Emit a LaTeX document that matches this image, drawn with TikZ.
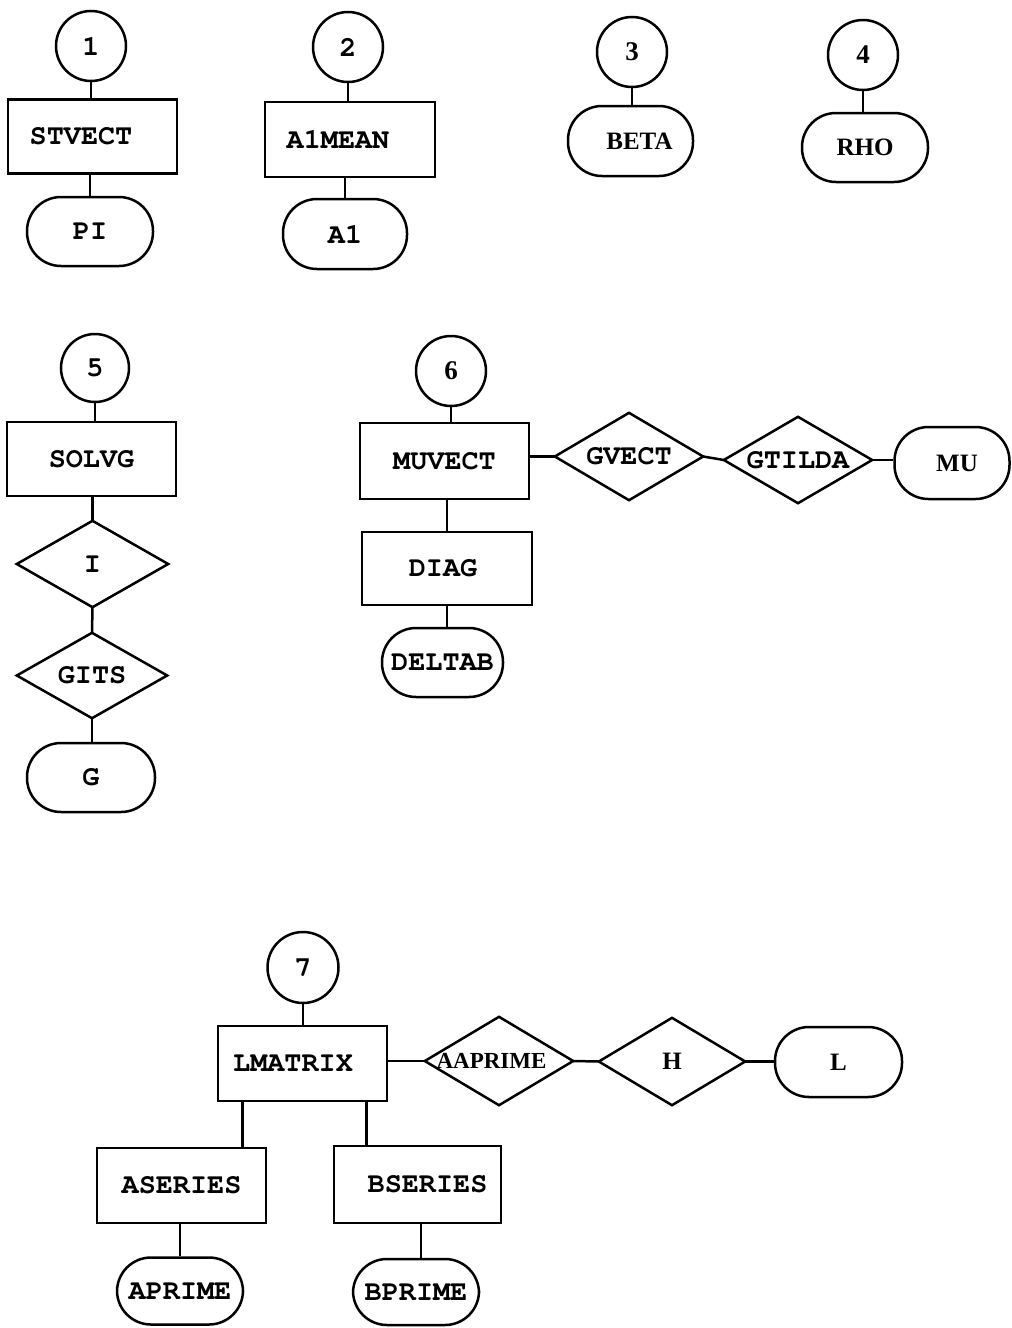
\documentclass[tikz,border=0pt]{standalone}
\usepackage{fontspec}
\setmainfont{Liberation Serif}
\setmonofont{TeX Gyre Cursor}
\newcommand\ctx[2]{\makebox[0pt]{\hspace*{#1}#2}}
\begin{document}
\begin{tikzpicture}[x=1pt,y=-1pt,
  base/.style={draw, line width=2.5pt, inner sep=0pt, text=black,
    font=\fontsize{28.5}{30}\selectfont\ttfamily\bfseries},
  serif/.style={font=\fontsize{25}{28}\selectfont\rmfamily\bfseries},
  num/.style={font=\fontsize{27}{30}\selectfont\rmfamily\bfseries},
  circ/.style={base, circle, minimum size=70pt},
  pbox/.style={base, rectangle, minimum width=169pt, minimum height=74pt},
  stad/.style={base, rectangle, rounded corners=34pt, minimum width=126pt, minimum height=69pt},
  dia/.style={inner sep=0pt, rectangle, minimum width=148pt, minimum height=86pt,
    font=\fontsize{28.5}{30}\selectfont\ttfamily\bfseries},
  conn/.style={line width=2.5pt}
]
\useasboundingbox (0,0) rectangle (1012,1328);
\fill[white] (0,0) rectangle (1012,1328);

% group 1
\node[circ] (c1) at (91,46) {1};
\node[pbox] (stv) at (92.5,136.5) {\ctx{-23pt}{STVECT}};
\node[stad] (pi) at (90,231.5) {PI};
% group 2
\node[circ] (c2) at (348,47) {2};
\node[pbox, minimum width=170pt, minimum height=75pt] (a1m) at (350,139.5) {\ctx{-24pt}{A1MEAN}};
\node[stad, minimum width=124pt, minimum height=70pt] (a1) at (345,234) {A1};
% group 3
\node[circ, num] (c3) at (632,52) {3};
\node[stad, serif, minimum width=125pt, minimum height=70pt] (beta) at (630.5,141) {\ctx{18pt}{BETA}};
% group 4
\node[circ, num] (c4) at (863,55) {4};
\node[stad, serif] (rho) at (865,147.5) {RHO};
% group 5
\node[circ, minimum size=68pt] (c5) at (95,368) {5};
\node[pbox] (solvg) at (91.5,459) {SOLVG};
\node[dia, minimum width=151pt] (di) at (92.5,564) {\ctx{0pt}{I}};
\node[dia, minimum width=150pt, minimum height=85pt] (gits) at (92,675.5) {\ctx{0pt}{GITS}};
\node[stad, minimum width=128pt] (g) at (91,777.5) {G};
% group 6
\node[circ, num] (c6) at (451,371) {6};
\node[pbox, minimum height=76pt] (muv) at (444.5,461) {MUVECT};
\node[dia, minimum height=87pt] (gv) at (629,456.5) {\ctx{0pt}{GVECT}};
\node[dia] (gt) at (798,460) {\ctx{0pt}{GTILDA}};
\node[stad, serif, minimum width=115pt, minimum height=72pt] (mu) at (952,463) {\ctx{10pt}{MU}};
\node[pbox, minimum width=170pt, minimum height=73pt] (diag) at (447,568.5) {\ctx{-8pt}{DIAG}};
\node[stad, minimum width=121pt] (delt) at (442.5,662.5) {DELTAB};
% group 7
\node[circ, minimum size=71pt] (c7) at (303,967.5) {7};
\node[pbox, minimum height=75pt] (lm) at (302.5,1063.5) {\ctx{-19pt}{LMATRIX}};
\node[dia, serif, minimum height=88pt] (aap) at (499,1061) {\ctx{-15pt}{\fontsize{23}{26}\selectfont AAPRIME}};
\node[dia, serif, minimum width=146pt, minimum height=87pt] (h) at (672,1061.5) {\ctx{0pt}{H}};
\node[stad, serif, minimum width=127pt, minimum height=70pt] (l) at (838.5,1062) {L};
\node[pbox, minimum height=75pt] (as) at (181.5,1185.5) {ASERIES};
\node[pbox, minimum width=167pt, minimum height=77pt] (bs) at (417.5,1184.5) {\ctx{20pt}{BSERIES}};
\node[stad, minimum height=67pt] (apr) at (180,1291) {APRIME};
\node[stad, minimum height=66pt] (bpr) at (416,1292) {BPRIME};

% diamonds
\foreach \d in {di,gits,gv,gt,aap,h}
  \draw[conn, line join=miter] (\d.north) -- (\d.east) -- (\d.south) -- (\d.west) -- cycle;

% connectors
\draw[conn] (c1.south) -- (c1.south |- stv.north);
\draw[conn] (pi.north |- stv.south) -- (pi.north);
\draw[conn] (c2.south) -- (c2.south |- a1m.north);
\draw[conn] (a1.north |- a1m.south) -- (a1.north);
\draw[conn] (c3.south) -- (c3.south |- beta.north);
\draw[conn] (c4.south) -- (c4.south |- rho.north);
\draw[conn] (c5.south) -- (c5.south |- solvg.north);
\draw[conn] (di.north |- solvg.south) -- (di.north);
\draw[conn] (di.south) -- (gits.north);
\draw[conn] (gits.south) -- (gits.south |- g.north);
\draw[conn] (c6.south) -- (c6.south |- muv.north);
\draw[conn] (diag.north |- muv.south) -- (diag.north);
\draw[conn] (diag.south) -- (diag.south |- delt.north);
\draw[conn] (gv.west -| muv.east) -- (gv.west);
\draw[conn] (gv.east) -- (gt.west);
\draw[conn] (gt.east) -- (gt.east -| mu.west);
\draw[conn] (c7.south) -- (c7.south |- lm.north);
\draw[conn] (aap.west -| lm.east) -- (aap.west);
\draw[conn] (aap.east) -- (h.west);
\draw[conn] (h.east) -- (h.east -| l.west);
\draw[conn] ([xshift=-60pt]lm.south) -- ([xshift=-60pt]lm.south |- as.north);
\draw[conn] ([xshift=64pt]lm.south) -- ([xshift=64pt]lm.south |- bs.north);
\draw[conn] (apr.north |- as.south) -- (apr.north);
\draw[conn] ([xshift=5pt]bpr.north |- bs.south) -- ([xshift=5pt]bpr.north);
\end{tikzpicture}
\end{document}
